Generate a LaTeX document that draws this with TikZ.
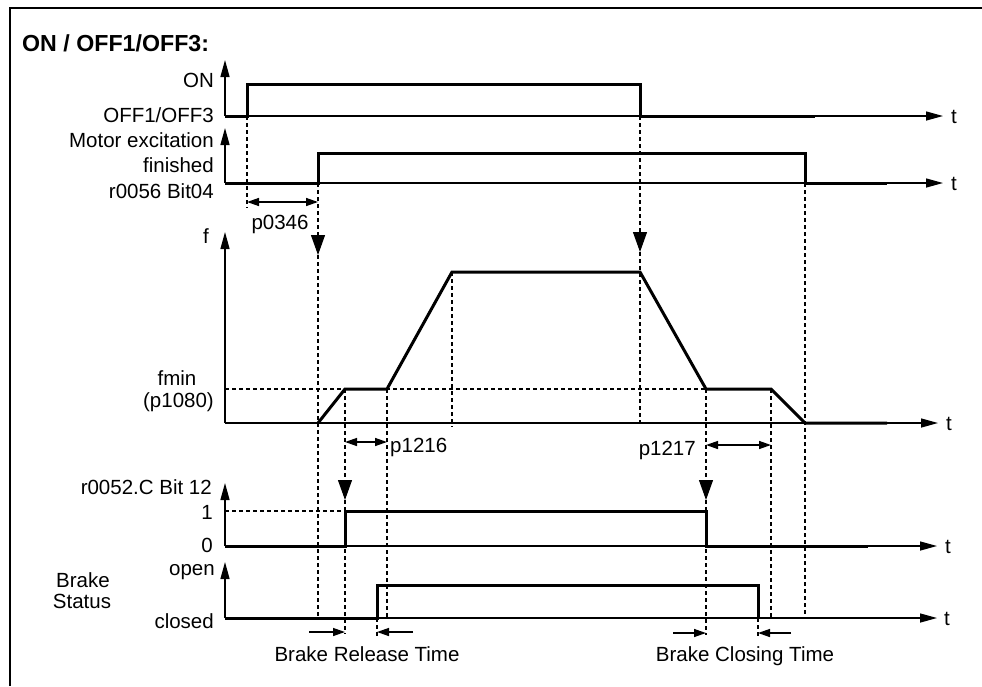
\documentclass[tikz,border=0pt]{standalone}
\usepackage{fontspec}
\setmainfont{Liberation Sans}
\usetikzlibrary{arrows.meta}
\begin{document}
\begin{tikzpicture}[x=1pt,y=-1pt,
  every node/.style={inner sep=0pt,font=\fontsize{20.5}{24}\selectfont},
  sig/.style={line width=3pt,line join=miter},
  axis/.style={line width=1.4pt,-{Triangle[length=17pt,width=9pt]}},
  guide/.style={line width=1.1pt,dash pattern=on 4pt off 3pt},
  trig/.style={guide,-{Triangle[length=20pt,width=14pt]}},
  span/.style={line width=1.4pt,{Triangle[length=12pt,width=8pt]}-{Triangle[length=12pt,width=8pt]}},
  ptr/.style={line width=1.4pt,-{Triangle[length=12pt,width=8pt]}},
  lbl/.style={anchor=base east},
  tlbl/.style={anchor=base west},
]
\useasboundingbox (0,0) rectangle (982,686);
% frame
\coordinate (fbl) at (10,686); \coordinate (ftl) at (10,8); \coordinate (ftr) at (982,8);
\draw[line width=2pt] (fbl) -- (ftl) -- (ftr);
\node[anchor=base west,font=\fontsize{23.2}{27}\selectfont\bfseries] (title) at (22,51) {ON / OFF1/OFF3:};

% ---------- guides (dashed) ----------
\coordinate (gA1) at (247,116); \coordinate (gA2) at (247,208);
\draw[guide] (gA1) -- (gA2);
\coordinate (gB1) at (318,183); \coordinate (gB2) at (318,255); \coordinate (gB3) at (318,618);
\draw[trig] (gB1) -- (gB2); \draw[guide] (gB2) -- (gB3);
\coordinate (gG1) at (640,116); \coordinate (gG2) at (640,252); \coordinate (gG3) at (640,423);
\draw[trig] (gG1) -- (gG2); \draw[guide] (gG2) -- (gG3);
\coordinate (gC1) at (345,389); \coordinate (gC2) at (345,500); \coordinate (gC3) at (345,634);
\draw[trig] (gC1) -- (gC2); \draw[guide] (gC2) -- (gC3);
\coordinate (gE1) at (387,389); \coordinate (gE2) at (387,618);
\draw[guide] (gE1) -- (gE2);
\coordinate (gF1) at (452,272); \coordinate (gF2) at (452,427);
\draw[guide] (gF1) -- (gF2);
\coordinate (gH1) at (706,389); \coordinate (gH2) at (706,500); \coordinate (gH3) at (706,635);
\draw[trig] (gH1) -- (gH2); \draw[guide] (gH2) -- (gH3);
\coordinate (gJ1) at (771,389); \coordinate (gJ2) at (771,618);
\draw[guide] (gJ1) -- (gJ2);
\coordinate (gK1) at (805,183); \coordinate (gK2) at (805,618);
\draw[guide] (gK1) -- (gK2);
\coordinate (gD1) at (377,618); \coordinate (gD2) at (377,637);
\draw[guide] (gD1) -- (gD2);
\coordinate (gI1) at (758,618); \coordinate (gI2) at (758,637);
\draw[guide] (gI1) -- (gI2);
\coordinate (fm0) at (225,389); \coordinate (fm1) at (706,389);
\draw[guide] (fm0) -- (fm1);
\coordinate (one0) at (225,511); \coordinate (one1) at (345,511);
\draw[guide] (one0) -- (one1);

% ---------- axes ----------
\coordinate (o1) at (225,116); \coordinate (y1) at (225,60); \coordinate (x1) at (943,116);
\draw[axis] (o1) -- (y1); \draw[axis] (o1) -- (x1);
\coordinate (o2) at (225,183); \coordinate (y2) at (225,128); \coordinate (x2) at (943,183);
\draw[axis] (o2) -- (y2); \draw[axis] (o2) -- (x2);
\coordinate (o3) at (225,423); \coordinate (y3) at (225,232); \coordinate (x3) at (938,423);
\draw[axis] (o3) -- (y3); \draw[axis] (o3) -- (x3);
\coordinate (o4) at (225,546); \coordinate (y4) at (225,483); \coordinate (x4) at (937,546);
\draw[axis] (o4) -- (y4); \draw[axis] (o4) -- (x4);
\coordinate (o5) at (225,618); \coordinate (y5) at (225,562); \coordinate (x5) at (937,618);
\draw[axis] (o5) -- (y5); \draw[axis] (o5) -- (x5);

\node[tlbl] (t1) at (951,123) {t};
\node[tlbl] (t2) at (951,190) {t};
\node[tlbl] (t3) at (946,430) {t};
\node[tlbl] (t4) at (945,553) {t};
\node[tlbl] (t5) at (944,625) {t};

% ---------- signals ----------
\draw[sig] (o1) -- (247,116) -- (247,84) -- (640,84) -- (640,116) -- (815,116);
\draw[sig] (o2) -- (318,183) -- (318,153) -- (805,153) -- (805,183) -- (887,183);
\draw[sig] (318,423) -- (345,389) -- (387,389) -- (452,272) -- (640,272) -- (706,389) -- (771,389) -- (805,423) -- (887,423);
\draw[sig] (o4) -- (345,546) -- (345,511) -- (706,511) -- (706,546) -- (868,546);
\draw[sig] (o5) -- (377,618) -- (377,585) -- (758,585) -- (758,618);

% ---------- left labels ----------
\node[lbl] (lon) at (214,87) {ON};
\node[lbl] (loff) at (214,122) {OFF1/OFF3};
\node[lbl] (lmot) at (214,147) {Motor excitation};
\node[lbl] (lfin) at (214,172) {finished};
\node[lbl] (lr56) at (214,198) {r0056 Bit04};
\node[lbl] (lf) at (209,243) {f};
\node[anchor=base] (lfmin) at (177,385) {fmin};
\node[lbl] (lp1080) at (214,407) {(p1080)};
\node[lbl] (lr52) at (212,494) {r0052.C Bit 12};
\node[lbl] (l1) at (213,519) {1};
\node[lbl] (l0) at (213,552) {0};
\node[lbl] (lopen) at (215,575) {open};
\node[lbl] (lclosed) at (214,628) {closed};
\node[anchor=base] (lbrake) at (83,587) {Brake};
\node[anchor=base] (lstatus) at (82,608) {Status};

% ---------- time spans ----------
\coordinate (s1a) at (247,202); \coordinate (s1b) at (318,202);
\draw[span] (s1a) -- (s1b);
\node[anchor=base] (p0346) at (280,229) {p0346};
\coordinate (s2a) at (345,442); \coordinate (s2b) at (387,442);
\draw[span] (s2a) -- (s2b);
\node[anchor=base west] (p1216) at (390,452) {p1216};
\coordinate (s3a) at (706,445); \coordinate (s3b) at (771,445);
\draw[span] (s3a) -- (s3b);
\node[anchor=base east] (p1217) at (696,455) {p1217};

% brake release / closing
\coordinate (br1) at (309,632); \coordinate (br2) at (345,632);
\coordinate (br3) at (413,632); \coordinate (br4) at (377,632);
\draw[ptr] (br1) -- (br2); \draw[ptr] (br3) -- (br4);
\node[anchor=base] (brt) at (367,661) {Brake Release Time};
\coordinate (bc1) at (673,633); \coordinate (bc2) at (706,633);
\coordinate (bc3) at (791,633); \coordinate (bc4) at (758,633);
\draw[ptr] (bc1) -- (bc2); \draw[ptr] (bc3) -- (bc4);
\node[anchor=base] (bct) at (745,661) {Brake Closing Time};
\end{tikzpicture}
\end{document}
